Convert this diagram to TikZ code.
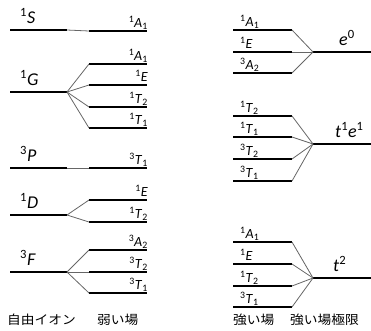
\documentclass[tikz,border=0pt]{standalone}
\usepackage{fontspec}
\setmainfont{Carlito}
\newfontfamily\jpfont[FakeStretch=1.1]{Noto Sans CJK JP}
\newcommand{\tsA}[3]{\textsuperscript{#1}\textit{#2}\textsubscript{#3}}
\newcommand{\tsB}[2]{\textsuperscript{#1}\textit{#2}}
\begin{document}
\begin{tikzpicture}[x=1pt,y=-1pt,
  lvl/.style={line width=2.6pt,black,line cap=butt},
  conn/.style={line width=0.8pt,black!60},
  big/.style={inner sep=0pt,font=\fontsize{18}{18}\selectfont},
  small/.style={inner sep=0pt,font=\fontsize{14}{14}\selectfont},
  jp/.style={inner sep=0pt,anchor=west,font=\jpfont\fontsize{12.5}{12.5}\selectfont}]
\useasboundingbox (0,0) rectangle (371,330);
% free ion levels
\foreach \n/\y/\t in {S/30/{\tsB{1}{S}},G/92/{\tsB{1}{G}},P/168/{\tsB{3}{P}},D/215/{\tsB{1}{D}},F/272/{\tsB{3}{F}}}{
  \coordinate (f\n) at (67,\y);
  \draw[lvl] (10,\y) -- (f\n);
  \node[big,anchor=base west] (L\n) at (20,\y-7) {\t};
}
% weak field levels
\foreach \n/\y/\p/\t in {w1/31/S/{\tsA{1}{A}{1}},w2/64/G/{\tsA{1}{A}{1}},w3/85/G/{\tsB{1}{E}},w4/107/G/{\tsA{1}{T}{2}},w5/128/G/{\tsA{1}{T}{1}},w6/168/P/{\tsA{3}{T}{1}},w7/200/D/{\tsB{1}{E}},w8/222/D/{\tsA{1}{T}{2}},w9/250/F/{\tsA{3}{A}{2}},w10/272/F/{\tsA{3}{T}{2}},w11/293/F/{\tsA{3}{T}{1}}}{
  \coordinate (\n) at (89,\y);
  \draw[lvl] (\n) -- ++(58,0);
  \draw[conn] (f\p) -- (\n);
  \node[small,anchor=base east] (l\n) at (148,\y-3.5) {\t};
}
% strong field limit levels
\foreach \n/\y in {a/52,b/144,c/278}{
  \coordinate (j\n) at (313,\y);
  \draw[lvl] (j\n) -- (371,\y);
}
\node[big,anchor=base west] (La) at (339,45) {\textit{e}\textsuperscript{0}};
\node[big,anchor=base west] (Lb) at (335,137) {\textit{t}\textsuperscript{1}\textit{e}\textsuperscript{1}};
\node[big,anchor=base west] (Lc) at (333,271) {\textit{t}\textsuperscript{2}};
% strong field levels
\foreach \n/\y/\p/\t in {s1/30/a/{\tsA{1}{A}{1}},s2/52/a/{\tsB{1}{E}},s3/73/a/{\tsA{3}{A}{2}},s4/116/b/{\tsA{1}{T}{2}},s5/137/b/{\tsA{1}{T}{1}},s6/159/b/{\tsA{3}{T}{2}},s7/181/b/{\tsA{3}{T}{1}},s8/242/c/{\tsA{1}{A}{1}},s9/264/c/{\tsB{1}{E}},s10/286/c/{\tsA{1}{T}{2}},s11/307/c/{\tsA{3}{T}{1}}}{
  \coordinate (\n) at (292,\y);
  \draw[lvl] (233,\y) -- (\n);
  \draw[conn] (\n) -- (j\p);
  \node[small,anchor=base west] (l\n) at (240,\y-3.5) {\t};
}
% bottom captions
\node[jp] (c1) at (7,320) {自由イオン};
\node[jp] (c2) at (97,320) {弱い場};
\node[jp] (c3) at (233,320) {強い場};
\node[jp] (c4) at (290,320) {強い場極限};
\end{tikzpicture}
\end{document}
